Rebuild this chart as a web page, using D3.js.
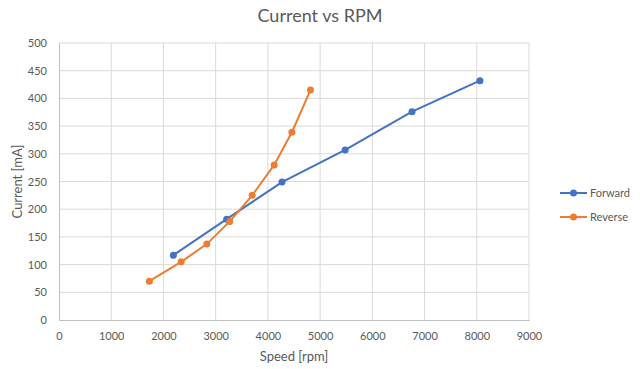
<!DOCTYPE html>
<html>
<head>
<meta charset="utf-8">
<script src="https://cdn.jsdelivr.net/npm/d3@7"></script>
<style>
  body { margin: 0; background: #fff; }
  text { font-family: Lato, "Open Sans", sans-serif; fill: #595959; }
</style>
</head>
<body>
<div id="chart"></div>
<script>
const seriesNames = ['Forward', 'Reverse'];
const forwardSpeed = [2190, 3210, 4270, 5480, 6760, 8060];
const forwardCurrent = [117, 182, 249, 307, 376, 432];
const reverseSpeed = [1730, 2340, 2830, 3270, 3700, 4120, 4460, 4815];
const reverseCurrent = [70, 105, 137, 178, 225, 280, 339, 415];
const xTicks = [0, 1000, 2000, 3000, 4000, 5000, 6000, 7000, 8000, 9000];
const yTicks = [0, 50, 100, 150, 200, 250, 300, 350, 400, 450, 500];
const colors = ['#4472C4', '#ED7D31'];

const W = 640, H = 369;
const margin = { top: 43, right: 111, bottom: 49, left: 59 };
const width = W - margin.left - margin.right;
const height = H - margin.top - margin.bottom;

const svg = d3.select('#chart').append('svg')
  .attr('width', W).attr('height', H);

const g = svg.append('g')
  .attr('transform', `translate(${margin.left},${margin.top})`);

const xScale = d3.scaleLinear().domain([0, 9000]).range([0, width]);
const yScale = d3.scaleLinear().domain([0, 500]).range([height, 0]);

// grid
g.append('g').selectAll('line').data(yTicks.slice(1)).enter().append('line')
  .attr('x1', 0).attr('x2', width)
  .attr('y1', d => yScale(d)).attr('y2', d => yScale(d))
  .attr('stroke', '#d9d9d9').attr('stroke-width', 1);
g.append('g').selectAll('line').data(xTicks.slice(1)).enter().append('line')
  .attr('y1', 0).attr('y2', height)
  .attr('x1', d => xScale(d)).attr('x2', d => xScale(d))
  .attr('stroke', '#d9d9d9').attr('stroke-width', 1);

// axes
const xAxis = g.append('g')
  .attr('transform', `translate(0,${height})`)
  .call(d3.axisBottom(xScale).tickValues(xTicks).tickFormat(d3.format('d'))
    .tickSize(0).tickPadding(12));
const yAxis = g.append('g')
  .call(d3.axisLeft(yScale).tickValues(yTicks).tickFormat(d3.format('d'))
    .tickSize(0).tickPadding(12));
[xAxis, yAxis].forEach(a => {
  a.select('.domain').attr('stroke', '#bfbfbf');
  a.selectAll('text').style('font-size', '11px').style('fill', '#595959');
});

const data = [
  forwardSpeed.map((s, i) => ({ x: s, y: forwardCurrent[i] })),
  reverseSpeed.map((s, i) => ({ x: s, y: reverseCurrent[i] }))
];

const line = d3.line().x(d => xScale(d.x)).y(d => yScale(d.y));

data.forEach((pts, k) => {
  g.append('path').datum(pts)
    .attr('d', line)
    .attr('fill', 'none')
    .attr('stroke', colors[k])
    .attr('stroke-width', 2);
  g.append('g').selectAll('circle').data(pts).enter().append('circle')
    .attr('cx', d => xScale(d.x))
    .attr('cy', d => yScale(d.y))
    .attr('r', 3.5)
    .attr('fill', colors[k]);
});

// titles
svg.append('text')
  .attr('x', 320).attr('y', 22)
  .attr('text-anchor', 'middle')
  .style('font-size', '18px')
  .text('Current vs RPM');

svg.append('text')
  .attr('x', margin.left + width / 2).attr('y', 361)
  .attr('text-anchor', 'middle')
  .style('font-size', '13px')
  .text('Speed [rpm]');

svg.append('text')
  .attr('transform', `translate(22,${margin.top + height / 2}) rotate(-90)`)
  .attr('text-anchor', 'middle')
  .style('font-size', '13px')
  .text('Current [mA]');

// legend
const legend = svg.append('g');
seriesNames.forEach((name, k) => {
  const ly = 193 + k * 24;
  legend.append('line')
    .attr('x1', 560).attr('x2', 587).attr('y1', ly).attr('y2', ly)
    .attr('stroke', colors[k]).attr('stroke-width', 2);
  legend.append('circle')
    .attr('cx', 573.5).attr('cy', ly).attr('r', 3.5).attr('fill', colors[k]);
  legend.append('text')
    .attr('x', 590).attr('y', ly).attr('dy', '0.35em')
    .style('font-size', '11px')
    .text(name);
});
</script>
</body>
</html>
